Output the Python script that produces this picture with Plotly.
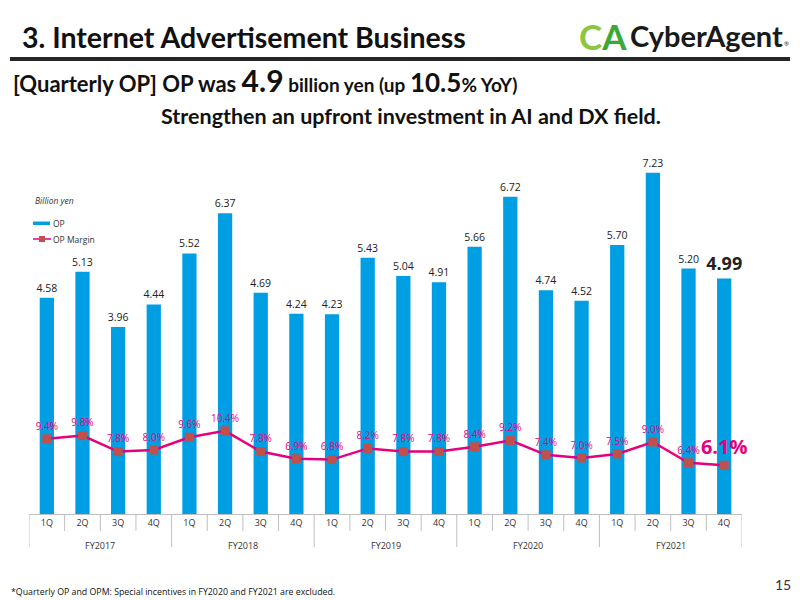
import plotly.graph_objects as go

quarters = ["1Q", "2Q", "3Q", "4Q"] * 5
fiscal_years = ["FY2017", "FY2018", "FY2019", "FY2020", "FY2021"]
op_values = [4.58, 5.13, 3.96, 4.44, 5.52, 6.37, 4.69, 4.24, 4.23, 5.43,
             5.04, 4.91, 5.66, 6.72, 4.74, 4.52, 5.70, 7.23, 5.20, 4.99]
op_margin = [9.4, 9.8, 7.8, 8.0, 9.6, 10.4, 7.8, 6.9, 6.8, 8.2,
             7.8, 7.8, 8.4, 9.2, 7.4, 7.0, 7.5, 9.0, 6.4, 6.1]

BLUE = "#009fe3"
PINK = "#e6007e"
MARK = "#c0504d"
FONT = "Open Sans"
HFONT = "Lato"

# plot area in page pixels
L, R, T, B = 29, 742, 150, 514
W, H = R - L, B - T


def px(x):
    return (x - L) / W


def py(y):
    return (B - y) / H


n = len(op_values)
xs = list(range(n))

bar_text = [f"{v:.2f}" for v in op_values]
bar_text[-1] = f"<b>{op_values[-1]:.2f}</b>"
bar_sizes = [10.5] * n
bar_sizes[-1] = 18

m_text = [f"{v:.1f}%" for v in op_margin]
m_text[-1] = f"<b>{op_margin[-1]:.1f}%</b>"
m_sizes = [10] * n
m_sizes[-1] = 20

fig = go.Figure()
fig.add_trace(go.Bar(
    x=xs, y=op_values, name="OP", width=0.4,
    marker=dict(color=BLUE, line=dict(width=0)),
    text=bar_text, textposition="outside", constraintext="none",
    textfont=dict(family=FONT, size=bar_sizes, color="#222222"),
    cliponaxis=False, yaxis="y",
))
fig.add_trace(go.Scatter(
    x=xs, y=op_margin, name="OP Margin", mode="lines+markers+text",
    line=dict(color=PINK, width=2.5),
    marker=dict(symbol="square", size=9, color=MARK),
    text=m_text, textposition="top center",
    textfont=dict(family=FONT, size=m_sizes, color=PINK),
    cliponaxis=False, yaxis="y2",
))

shapes = []
annotations = []

# category separators
for i in range(n + 1):
    is_year = (i % 4 == 0)
    y1 = py(547) if is_year else py(531)
    shapes.append(dict(type="line", xref="x", yref="paper",
                       x0=i - 0.5, x1=i - 0.5, y0=0, y1=y1,
                       line=dict(color="#bfbfbf", width=1)))
for k, fy in enumerate(fiscal_years):
    annotations.append(dict(text=fy, xref="x", yref="paper", x=k * 4 + 1.5,
                            y=py(545), showarrow=False, yanchor="middle",
                            font=dict(family=FONT, size=9, color="#333333")))

# header
annotations.append(dict(text="<b>3. Internet Advertisement Business</b>",
                        xref="paper", yref="paper", x=px(20), y=py(37),
                        xanchor="left", yanchor="middle", showarrow=False,
                        font=dict(family=HFONT, size=28.5, color="#111111")))
shapes.append(dict(type="rect", xref="paper", yref="paper",
                   x0=px(10), x1=px(790), y0=py(57), y1=py(61),
                   fillcolor="#262626", line=dict(width=0)))
annotations.append(dict(
    text=("<b>[Quarterly OP] OP was <span style='font-size:30px'>4.9</span>"
          "<span style='font-size:19px'> billion yen (up </span>"
          "<span style='font-size:26px'>10.5</span>"
          "<span style='font-size:19px'>% YoY)</span></b>"),
    xref="paper", yref="paper", x=px(11), y=py(80),
    xanchor="left", yanchor="middle", showarrow=False,
    font=dict(family=HFONT, size=22, color="#111111")))
annotations.append(dict(
    text="<b>Strengthen an upfront investment in AI and DX field.</b>",
    xref="paper", yref="paper", x=px(411), y=py(116),
    xanchor="center", yanchor="middle", showarrow=False,
    font=dict(family=HFONT, size=21.5, color="#111111")))

# logo
annotations.append(dict(
    text="<b><span style='color:#8cc63f'>C</span><span style='color:#3aa935'>A</span></b>",
    xref="paper", yref="paper", x=px(577), y=py(36),
    xanchor="left", yanchor="middle", showarrow=False,
    font=dict(family=HFONT, size=35, color="#3aa935")))
annotations.append(dict(
    text="<b>CyberAgent</b>", xref="paper", yref="paper", x=px(628), y=py(35),
    xanchor="left", yanchor="middle", showarrow=False,
    font=dict(family=HFONT, size=29, color="#1a1a1a")))
annotations.append(dict(
    text="®", xref="paper", yref="paper", x=px(786), y=py(44),
    xanchor="center", yanchor="middle", showarrow=False,
    font=dict(family=FONT, size=6, color="#1a1a1a")))

# units + custom legend
annotations.append(dict(text="<i>Billion yen</i>", xref="paper", yref="paper",
                        x=px(33), y=py(200), xanchor="left", yanchor="middle",
                        showarrow=False,
                        font=dict(family=FONT, size=8.5, color="#333333")))
shapes.append(dict(type="rect", xref="paper", yref="paper",
                   x0=px(33), x1=px(50), y0=py(225), y1=py(221.5),
                   fillcolor=BLUE, line=dict(width=0)))
annotations.append(dict(text="OP", xref="paper", yref="paper",
                        x=px(51), y=py(223), xanchor="left", yanchor="middle",
                        showarrow=False,
                        font=dict(family=FONT, size=8.5, color="#333333")))
shapes.append(dict(type="line", xref="paper", yref="paper",
                   x0=px(33), x1=px(51), y0=py(239), y1=py(239),
                   line=dict(color=PINK, width=1.5)))
shapes.append(dict(type="rect", xref="paper", yref="paper",
                   x0=px(39), x1=px(45), y0=py(242), y1=py(236),
                   fillcolor=MARK, line=dict(width=0)))
annotations.append(dict(text="OP Margin", xref="paper", yref="paper",
                        x=px(51), y=py(239), xanchor="left", yanchor="middle",
                        showarrow=False,
                        font=dict(family=FONT, size=8.5, color="#333333")))

# footnote and page number
annotations.append(dict(
    text="*Quarterly OP and OPM: Special incentives in FY2020 and FY2021 are excluded.",
    xref="paper", yref="paper", x=px(9), y=py(592), xanchor="left",
    yanchor="middle", showarrow=False,
    font=dict(family=FONT, size=8.8, color="#111111")))
annotations.append(dict(text="15", xref="paper", yref="paper", x=px(783),
                        y=py(584), xanchor="center", yanchor="middle",
                        showarrow=False,
                        font=dict(family=HFONT, size=14, color="#333333")))

fig.update_layout(
    width=800, height=600,
    margin=dict(l=L, r=800 - R, t=T, b=600 - B, pad=0),
    paper_bgcolor="white", plot_bgcolor="white",
    showlegend=False,
    xaxis=dict(range=[-0.5, n - 0.5], tickvals=xs, ticktext=quarters,
               showgrid=False, zeroline=False, showline=True,
               linecolor="#bfbfbf", linewidth=1, ticks="",
               tickfont=dict(family=FONT, size=9, color="#333333"),
               fixedrange=True),
    yaxis=dict(range=[0, H / 47.2], visible=False, showgrid=False,
               zeroline=False),
    yaxis2=dict(range=[0, H / 8.0], visible=False, showgrid=False,
                zeroline=False, overlaying="y", side="right"),
    shapes=shapes, annotations=annotations,
)

fig.write_html("out.html")
